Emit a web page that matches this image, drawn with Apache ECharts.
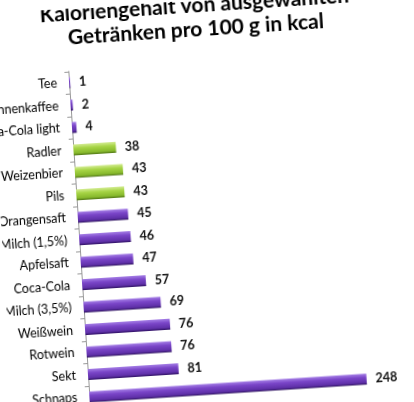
<!DOCTYPE html>
<html>
<head>
<meta charset="utf-8">
<script src="https://cdn.jsdelivr.net/npm/echarts@6/dist/echarts.min.js"></script>
<style>
html, body { margin: 0; padding: 0; background: #fff; overflow: hidden; }
#wrap { width: 414px; height: 402px; overflow: hidden; position: relative; }
#chart { width: 414px; height: 402px; transform: rotate(-3.7deg); transform-origin: 207px 201px; }
</style>
</head>
<body>
<div id="wrap"><div id="chart"></div></div>
<script>
// Getränke, von oben nach unten
var categories = ['Tee', 'Bohnenkaffee', 'Coca-Cola light', 'Radler', 'Weizenbier', 'Pils',
    'Orangensaft', 'Milch (1,5%)', 'Apfelsaft', 'Coca-Cola', 'Milch (3,5%)', 'Weißwein',
    'Rotwein', 'Sekt', 'Schnaps'];
var values = [1, 2, 4, 38, 43, 43, 45, 46, 47, 57, 69, 76, 76, 81, 248];
// Biersorten grün
var beers = ['Radler', 'Weizenbier', 'Pils'];

function barColor(green) {
    if (green) {
        return new echarts.graphic.LinearGradient(0, 0, 0, 1, [
            { offset: 0, color: '#d4ec94' },
            { offset: 0.35, color: '#a6d445' },
            { offset: 0.8, color: '#86b82c' },
            { offset: 1, color: '#4f7416' }
        ]);
    }
    return new echarts.graphic.LinearGradient(0, 0, 0, 1, [
        { offset: 0, color: '#a57fe6' },
        { offset: 0.35, color: '#7a45c8' },
        { offset: 0.8, color: '#5f30a8' },
        { offset: 1, color: '#2e1260' }
    ]);
}

var data = [];
for (var i = 0; i < categories.length; i++) {
    data.push({
        value: values[i],
        itemStyle: { color: barColor(beers.indexOf(categories[i]) >= 0) }
    });
}

var myChart = echarts.init(document.getElementById('chart'));
var option = {
    animation: false,
    title: {
        text: 'Kaloriengehalt von ausgewählten\nGetränken pro 100 g in kcal',
        left: 'center',
        top: -12,
        textStyle: {
            fontFamily: 'Lato',
            fontWeight: 'bold',
            fontSize: 21,
            lineHeight: 24,
            color: '#000'
        }
    },
    grid: {
        left: 77,
        top: 62.75,
        width: 336,
        height: 337.5,
        outerBoundsMode: 'none'
    },
    xAxis: {
        type: 'value',
        min: 0,
        max: 300,
        show: false
    },
    yAxis: {
        type: 'category',
        inverse: true,
        data: categories,
        axisLine: { lineStyle: { color: '#999', width: 1 } },
        axisTick: { show: true, length: 4, lineStyle: { color: '#999' } },
        axisLabel: {
            fontFamily: 'Lato',
            fontSize: 12.5,
            color: '#000',
            margin: 12
        }
    },
    series: [{
        type: 'bar',
        data: data,
        barWidth: 11,
        label: {
            show: true,
            position: 'right',
            distance: 9,
            fontFamily: 'Lato',
            fontWeight: 'bold',
            fontSize: 12.5,
            color: '#111'
        }
    }]
};
myChart.setOption(option);
</script>
</body>
</html>
